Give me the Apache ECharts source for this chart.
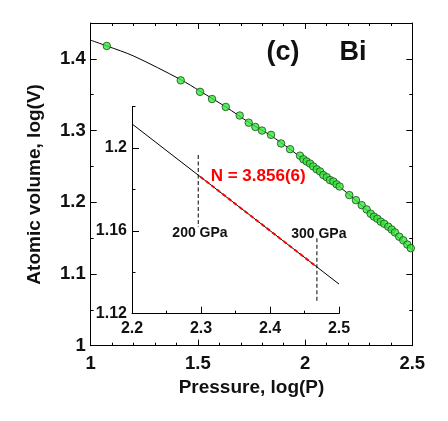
<!DOCTYPE html>
<html>
<head>
<meta charset="utf-8">
<script src="https://cdn.jsdelivr.net/npm/echarts@6/dist/echarts.min.js"></script>
<style>
html,body{margin:0;padding:0;background:#fff;}
#c{width:448px;height:421px;}
</style>
</head>
<body>
<div id="c"></div>
<script>
// ---- data ----
const volX = [1.075, 1.420, 1.510, 1.566, 1.630, 1.695, 1.737, 1.768, 1.799, 1.841, 1.888, 1.930, 1.976, 1.992, 2.007, 2.023, 2.038, 2.054, 2.070, 2.085, 2.101, 2.116, 2.132, 2.147, 2.161, 2.206, 2.237, 2.264, 2.287, 2.306, 2.321, 2.337, 2.353, 2.369, 2.388, 2.404, 2.419, 2.439, 2.458, 2.477, 2.493];
const volY = [1.418, 1.370, 1.354, 1.344, 1.333, 1.321, 1.311, 1.305, 1.300, 1.294, 1.282, 1.274, 1.265, 1.260, 1.257, 1.254, 1.250, 1.246, 1.243, 1.238, 1.235, 1.231, 1.229, 1.225, 1.222, 1.210, 1.203, 1.196, 1.190, 1.184, 1.180, 1.177, 1.173, 1.170, 1.166, 1.162, 1.158, 1.152, 1.147, 1.141, 1.136];
const fitX = [1.0, 1.075, 1.2, 1.42, 1.51, 1.63, 1.74, 1.84, 1.93, 2.0, 2.1, 2.2, 2.3, 2.4, 2.5];
const fitY = [1.426, 1.418, 1.404, 1.371, 1.355, 1.333, 1.311, 1.293, 1.274, 1.258, 1.236, 1.212, 1.186, 1.160, 1.134];
const insetFitX = [2.2, 2.5];
const insetFitY = [1.2116, 1.1343];
const segX = [2.299, 2.467];
const segY = [1.1861, 1.1428];
const mark200X = [2.296, 2.296];
const mark200Y = [1.1966, 1.1618];
const mark300X = [2.468, 2.468];
const mark300Y = [1.1564, 1.1253];
// tick labels
const mainXLabels = ['1', '1.5', '2', '2.5'];
const mainYLabels = ['1', '1.1', '1.2', '1.3', '1.4'];
const insetXLabels = ['2.2', '2.3', '2.4', '2.5'];
const insetYLabels = ['1.12', '1.16', '1.2'];
// texts
const panelLabel = '(c)';
const elementLabel = 'Bi';
const fitLabel = 'N = 3.856(6)';
const p200Label = '200 GPa';
const p300Label = '300 GPa';
const xName = 'Pressure, log(P)';
const yName = 'Atomic volume, log(V)';

const FONT = 'Liberation Sans, Arial, sans-serif';
const pair = (xs, ys) => xs.map((x, i) => [x, ys[i]]);
const fmt = labels => v => {
  const hit = labels.find(l => Math.abs(parseFloat(l) - v) < 1e-6);
  return hit === undefined ? '' : hit;
};
const black = '#000';
const lineAx = {show: true, lineStyle: {color: black, width: 1}};

const chart = echarts.init(document.getElementById('c'), null, {renderer: 'canvas'});
chart.setOption({
  animation: false,
  backgroundColor: '#fff',
  grid: [
    {left: 90.7, top: 23, width: 321.6, height: 322.7, containLabel: false},
    {left: 132, top: 106.5, width: 207, height: 207.2, containLabel: false}
  ],
  xAxis: [
    {gridIndex: 0, type: 'value', position: 'bottom', min: 1, max: 2.5, interval: 0.5,
     axisLine: lineAx, axisTick: {show: true, inside: true, length: 6, lineStyle: {color: black}},
     minorTick: {show: true, splitNumber: 5, length: 3, lineStyle: {color: black}},
     splitLine: {show: false},
     axisLabel: {formatter: fmt(mainXLabels), color: '#111', fontFamily: FONT, fontWeight: 'bold', fontSize: 18.5, margin: 9},
     name: xName, nameLocation: 'middle', nameGap: 33,
     nameTextStyle: {color: '#111', fontFamily: FONT, fontWeight: 'bold', fontSize: 19}},
    {gridIndex: 0, type: 'value', position: 'top', min: 1, max: 2.5, interval: 0.5,
     axisLine: lineAx, axisTick: {show: true, inside: true, length: 6, lineStyle: {color: black}},
     minorTick: {show: true, splitNumber: 5, length: 3, lineStyle: {color: black}},
     splitLine: {show: false}, axisLabel: {show: false}},
    {gridIndex: 1, type: 'value', position: 'bottom', min: 2.2, max: 2.5, interval: 0.1,
     axisLine: lineAx, axisTick: {show: true, inside: true, length: 7, lineStyle: {color: black}},
     minorTick: {show: true, splitNumber: 2, length: 3, lineStyle: {color: black}},
     splitLine: {show: false},
     axisLabel: {formatter: fmt(insetXLabels), color: '#111', fontFamily: FONT, fontWeight: 'bold', fontSize: 16, margin: 7}}
  ],
  yAxis: [
    {gridIndex: 0, type: 'value', position: 'left', min: 1, max: 1.45, interval: 0.1,
     axisLine: lineAx, axisTick: {show: true, inside: true, length: 6, lineStyle: {color: black}},
     splitLine: {show: false},
     axisLabel: {formatter: fmt(mainYLabels), showMaxLabel: false, color: '#111', fontFamily: FONT, fontWeight: 'bold', fontSize: 18.5, margin: 5},
     name: yName, nameLocation: 'middle', nameRotate: 90, nameGap: 46,
     nameTextStyle: {color: '#111', fontFamily: FONT, fontWeight: 'bold', fontSize: 19}},
    {gridIndex: 0, type: 'value', position: 'left', min: 1, max: 1.45, interval: 0.05,
     axisLine: {show: false}, axisTick: {show: true, inside: true, length: 3, lineStyle: {color: black}},
     splitLine: {show: false}, axisLabel: {show: false}},
    {gridIndex: 0, type: 'value', position: 'right', min: 1, max: 1.45, interval: 0.1,
     axisLine: lineAx, axisTick: {show: true, inside: true, length: 6, lineStyle: {color: black}},
     splitLine: {show: false}, axisLabel: {show: false}},
    {gridIndex: 0, type: 'value', position: 'right', min: 1, max: 1.45, interval: 0.05,
     axisLine: {show: false}, axisTick: {show: true, inside: true, length: 3, lineStyle: {color: black}},
     splitLine: {show: false}, axisLabel: {show: false}},
    {gridIndex: 1, type: 'value', position: 'left', min: 1.12, max: 1.22, interval: 0.04,
     axisLine: lineAx,
     axisTick: {show: true, inside: true, length: 7, lineStyle: {color: black}, customValues: insetYLabels.map(Number)},
     splitLine: {show: false},
     axisLabel: {formatter: fmt(insetYLabels), showMaxLabel: false, color: '#111', fontFamily: FONT, fontWeight: 'bold', fontSize: 16, margin: 5}},
    {gridIndex: 1, type: 'value', position: 'left', min: 1.12, max: 1.22, interval: 0.02,
     axisLine: {show: false}, axisTick: {show: true, inside: true, length: 3.5, lineStyle: {color: black}},
     splitLine: {show: false}, axisLabel: {show: false}}
  ],
  series: [
    {type: 'line', xAxisIndex: 0, yAxisIndex: 0, data: pair(fitX, fitY), smooth: 0.3, symbol: 'none',
     lineStyle: {color: black, width: 1}, z: 2},
    {type: 'scatter', xAxisIndex: 0, yAxisIndex: 0, data: pair(volX, volY), symbol: 'circle', symbolSize: 7.5,
     itemStyle: {color: '#35e83a', borderColor: '#1d4a1d', borderWidth: 1}, z: 3},
    {type: 'line', xAxisIndex: 2, yAxisIndex: 4, data: pair(insetFitX, insetFitY), symbol: 'none',
     lineStyle: {color: black, width: 1}, z: 2},
    {type: 'line', xAxisIndex: 2, yAxisIndex: 4, data: pair(segX, segY), symbol: 'none',
     lineStyle: {color: '#ff0000', width: 2, type: [4, 3]}, z: 3},
    {type: 'line', xAxisIndex: 2, yAxisIndex: 4, data: pair(mark200X, mark200Y), symbol: 'none',
     lineStyle: {color: black, width: 1, type: [4, 2.5]}, z: 2},
    {type: 'line', xAxisIndex: 2, yAxisIndex: 4, data: pair(mark300X, mark300Y), symbol: 'none',
     lineStyle: {color: black, width: 1, type: [4, 2.5]}, z: 2}
  ],
  graphic: [
    {type: 'text', x: 283, y: 53, style: {text: panelLabel, fill: '#111', font: 'bold 27px ' + FONT, align: 'center', verticalAlign: 'middle'}},
    {type: 'text', x: 353, y: 53, style: {text: elementLabel, fill: '#111', font: 'bold 27px ' + FONT, align: 'center', verticalAlign: 'middle'}},
    {type: 'text', x: 210.7, y: 176, style: {text: fitLabel, fill: '#ff0000', font: 'bold 17px ' + FONT, align: 'left', verticalAlign: 'middle'}},
    {type: 'text', x: 200, y: 233, style: {text: p200Label, fill: '#111', font: 'bold 14px ' + FONT, align: 'center', verticalAlign: 'middle'}},
    {type: 'text', x: 318.8, y: 234.3, style: {text: p300Label, fill: '#111', font: 'bold 14px ' + FONT, align: 'center', verticalAlign: 'middle'}}
  ]
});
</script>
</body>
</html>
